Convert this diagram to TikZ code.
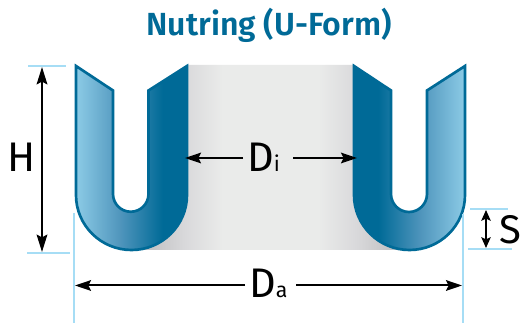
\documentclass[tikz,border=0pt]{standalone}
\usepackage{fontspec}
\setmainfont{Fira Sans}
\newfontfamily\titlefont{Fira Sans SemiBold}
\usetikzlibrary{arrows.meta}
\definecolor{ublue}{HTML}{006A97}
\definecolor{ulight}{HTML}{8CCBE6}
\definecolor{umid}{HTML}{4F95BC}
\definecolor{extline}{HTML}{A6DDF5}
\definecolor{gdark}{HTML}{C4C4C6}
\definecolor{gmid}{HTML}{D9D9DB}
\definecolor{glight}{HTML}{EAEBEA}
\pgfdeclarehorizontalshading{uleft}{100bp}{color(0bp)=(ulight);color(25bp)=(ulight);color(45bp)=(umid);color(64bp)=(ublue);color(100bp)=(ublue)}
\pgfdeclarehorizontalshading{uright}{100bp}{color(0bp)=(ublue);color(36bp)=(ublue);color(55bp)=(umid);color(75bp)=(ulight);color(100bp)=(ulight)}
\pgfdeclarehorizontalshading{core}{100bp}{color(0bp)=(gdark);color(28bp)=(gdark);color(34bp)=(gmid);color(41bp)=(glight);color(59bp)=(glight);color(66bp)=(gmid);color(72bp)=(gdark);color(100bp)=(gdark)}
\tikzset{
  extl/.style={draw=extline,line width=1.4pt},
  dimarrow/.style={draw=black,line width=1.5pt,{Stealth[length=13pt,width=8pt,inset=2pt]}-{Stealth[length=13pt,width=8pt,inset=2pt]}},
  smallarrow/.style={draw=black,line width=1.5pt,{Stealth[length=8pt,width=7pt,inset=1.5pt]}-{Stealth[length=8pt,width=7pt,inset=1.5pt]}},
  onearrow/.style={draw=black,line width=1.5pt,-{Stealth[length=12pt,width=8pt,inset=2pt]}},
  ring/.style={draw=ublue,line width=2pt,line join=miter},
  big/.style={font=\fontsize{31}{31}\selectfont,text=black,inner sep=0pt}
}
\begin{document}
\begin{tikzpicture}[x=0.75pt,y=-0.75pt]
\useasboundingbox (0,0) rectangle (522,323);
\fill[white] (0,0) rectangle (522,323);
% core
\path[shading=core] (187,65) -- (354,65) -- (354,200) -- (404,250) -- (137,250) -- (187,200) -- cycle;
% left U
\path[ring,shading=uleft] (76,66) -- (113,90.5) -- (113,194)
  arc[start angle=180,end angle=0,radius=17.75] -- (148.5,90.5)
  -- (187,66) -- (187,195) arc[start angle=0,end angle=180,x radius=55.5,y radius=55] -- cycle;
% right U
\path[ring,shading=uright] (354,66) -- (391,90.5) -- (391,194)
  arc[start angle=180,end angle=0,radius=18] -- (427,90.5)
  -- (465,66) -- (465,195) arc[start angle=0,end angle=180,x radius=55.5,y radius=55] -- cycle;
% extension lines
\coordinate (ht1) at (28,66); \coordinate (ht2) at (66,66);
\coordinate (hb1) at (27,253); \coordinate (hb2) at (70,253);
\coordinate (vl1) at (74,213); \coordinate (vl2) at (74,323);
\coordinate (vr1) at (463,214); \coordinate (vr2) at (463,323);
\coordinate (st1) at (470,209); \coordinate (st2) at (508,209);
\coordinate (sb1) at (468,249); \coordinate (sb2) at (512,249);
\draw[extl] (ht1) -- (ht2);
\draw[extl] (hb1) -- (hb2);
\draw[extl] (vl1) -- (vl2);
\draw[extl] (vr1) -- (vr2);
\draw[extl] (st1) -- (st2);
\draw[extl] (sb1) -- (sb2);
% title
\node[font=\fontsize{24}{24}\selectfont\titlefont,text=ublue,inner sep=0pt] (title) at (269,25) {Nutring (U-Form)};
% labels
\node[big,anchor=base] (H) at (22,172) {H};
\node[font=\fontsize{30}{30}\selectfont,text=black,inner sep=0pt,anchor=base] (S) at (510.5,244) {S};
\node[inner sep=0pt,anchor=base west] (Di) at (247,172) {\fontsize{31}{31}\selectfont D\fontsize{16}{16}\selectfont i};
\node[inner sep=0pt,anchor=base west] (Da) at (249,298) {\fontsize{31}{31}\selectfont D\fontsize{16}{16}\selectfont a};
% dimension arrows
\coordinate (ha) at (42,67); \coordinate (hz) at (42,252);
\coordinate (sa) at (486,210); \coordinate (sz) at (486,248);
\coordinate (dil) at (185,158); \coordinate (dir) at (357,158);
\coordinate (dal) at (75,285.5); \coordinate (dar) at (462,285.5);
\coordinate (dis) at (243,158); \coordinate (dit) at (293,158);
\coordinate (das) at (245,285.5); \coordinate (dat) at (296,285.5);
\draw[dimarrow] (ha) -- (hz);
\draw[smallarrow] (sa) -- (sz);
\draw[onearrow] (dis) -- (dil);
\draw[onearrow] (dit) -- (dir);
\draw[onearrow] (das) -- (dal);
\draw[onearrow] (dat) -- (dar);
\end{tikzpicture}
\end{document}
